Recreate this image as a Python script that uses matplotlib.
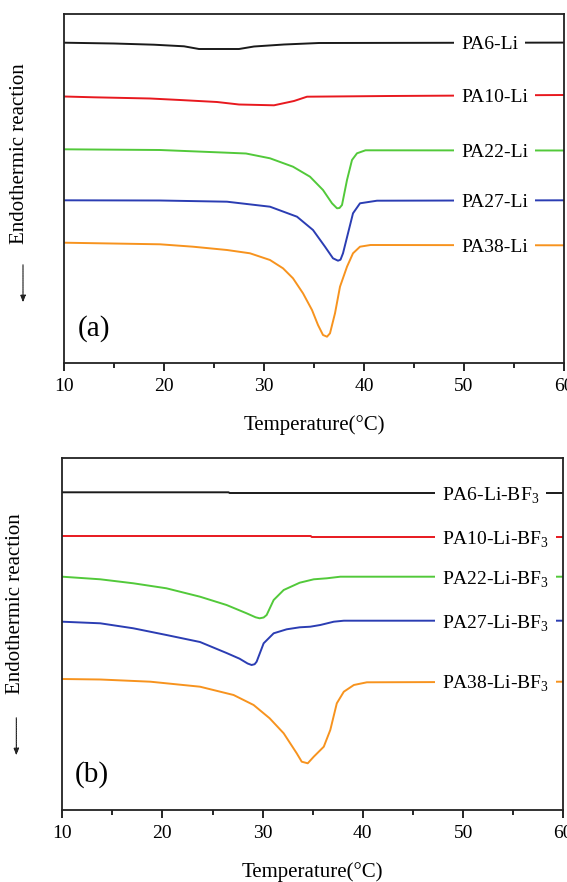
import matplotlib
matplotlib.use("Agg")
import matplotlib.pyplot as plt
from matplotlib.ticker import MultipleLocator

plt.rcParams['font.family'] = ['Liberation Serif', 'DejaVu Serif']
plt.rcParams['mathtext.fontset'] = 'custom'
plt.rcParams['mathtext.rm'] = 'Liberation Serif'

# ---------------- data (heat flow, arbitrary units) ----------------
labels_a = ['PA6-Li', 'PA10-Li', 'PA22-Li', 'PA27-Li', 'PA38-Li']
labels_b = [r'PA6-Li-BF$_\mathregular{3}$', r'PA10-Li-BF$_\mathregular{3}$',
            r'PA22-Li-BF$_\mathregular{3}$', r'PA27-Li-BF$_\mathregular{3}$',
            r'PA38-Li-BF$_\mathregular{3}$']
colors = ['#1a1a1a', '#e8191f', '#52c93a', '#2b3db3', '#f7931e']

# Panel (a)
pa6_T = [10, 15, 19, 22, 23.5, 27.5, 29, 32, 35.5, 60]
pa6_y = [320.3, 319.5, 318.3, 316.7, 314, 314, 316.5, 318.5, 320, 320.4]

pa10_T = [10, 13, 18.6, 21.6, 25.3, 27.5, 31, 33, 34.3, 42.5, 60]
pa10_y = [266.5, 265.7, 264.5, 263, 261, 258.5, 257.7, 262, 266.3, 267, 268]

pa22_T = [10, 19.6, 26.3, 28.2, 30.6, 32.9, 34.6, 35.9, 36.8, 37.3, 37.55,
          37.8, 38.3, 38.8, 39.3, 40.15, 60]
pa22_y = [213.7, 213, 210.3, 209.5, 204.7, 196.3, 186.3, 173, 159.7, 154.7,
          155, 158, 183, 203, 209.7, 212.7, 212.5]

pa27_T = [10, 19.6, 26.3, 30.6, 33.3, 34.9, 36.1, 36.9, 37.4, 37.65, 37.9,
          38.4, 38.9, 39.6, 41.3, 60]
pa27_y = [162.7, 162.5, 161.3, 156.3, 146.3, 133, 116.3, 104.7, 102.3, 103.3,
          109.7, 129.7, 149.7, 159.7, 162.3, 162.7]

pa38_T = [10, 19.6, 22.9, 26.3, 28.6, 30.6, 31.9, 32.9, 33.9, 34.8, 35.4, 35.9,
          36.3, 36.6, 37.1, 37.6, 38.3, 38.9, 39.6, 40.65, 60]
pa38_y = [120.3, 118.7, 116.3, 113, 109.7, 103, 94.7, 84.7, 69.7, 53, 38, 28,
          26.3, 29.7, 49.7, 76.3, 96.3, 109.7, 116.3, 118, 117.7]

# Panel (b)
b6_T = [10, 26.6, 26.7, 60]
b6_y = [317.7, 317.7, 317, 317]

b10_T = [10, 34.8, 34.9, 60]
b10_y = [274, 274, 273, 273]

b22_T = [10, 13.8, 17.1, 20.4, 23.75, 26.4, 28.4, 29.3, 29.7, 30.1, 30.4,
         31.1, 32.1, 33.7, 35.1, 36.4, 37.75, 60]
b22_y = [233.3, 230.7, 226.7, 221.7, 213.3, 205, 196.7, 192.7, 191.7, 192.5,
         195, 210, 220, 227.3, 230.7, 231.7, 233.3, 233.3]

b27_T = [10, 13.8, 17.1, 20.4, 23.75, 26.4, 27.7, 28.5, 28.9, 29.2, 29.4,
         30.1, 31.1, 32.4, 33.7, 34.75, 35.75, 37.1, 38.1, 60]
b27_y = [188.3, 186.7, 181.7, 175, 168, 157, 151.3, 146.5, 145, 145.8, 148.3,
         166.7, 176.7, 180.7, 182.7, 183.3, 185, 188.3, 189.3, 189.3]

b38_T = [10, 13.8, 18.8, 23.75, 27.1, 29.1, 30.7, 32.1, 33.4, 33.9, 34.5, 35.1,
         36.1, 36.75, 37.4, 38.1, 39.1, 40.4, 60]
b38_y = [131, 130.5, 128.3, 123.3, 115, 105, 91.7, 76.7, 56.7, 48.3, 46.7, 53.3,
         63.3, 80, 106.7, 118.3, 125, 127.7, 128.3]

xticks = [10, 20, 30, 40, 50, 60]
xlabel = 'Temperature(°C)'
ylabel = 'Endothermic reaction'

series_a = [(pa6_T, pa6_y), (pa10_T, pa10_y), (pa22_T, pa22_y),
            (pa27_T, pa27_y), (pa38_T, pa38_y)]
series_b = [(b6_T, b6_y), (b10_T, b10_y), (b22_T, b22_y),
            (b27_T, b27_y), (b38_T, b38_y)]

# ---------------- figure ----------------
W, H = 567, 882
fig = plt.figure(figsize=(W / 100, H / 100), dpi=100)


def frac(px_l, px_top, px_r, px_bot):
    return [px_l / W, 1 - px_bot / H, (px_r - px_l) / W, (px_bot - px_top) / H]


ax_a = fig.add_axes(frac(64, 13.5, 564, 363))
ax_b = fig.add_axes(frac(62.2, 458.3, 563.3, 810))


def style(ax, ylim, tag, label_x, labels, series):
    for (T, y), c, lab in zip(series, colors, labels):
        ax.plot(T, y, color=c, lw=1.4, zorder=2, solid_joinstyle='round')
        ax.text(label_x, y[-1], lab, fontsize=14, ha='left', va='center_baseline',
                zorder=3,
                bbox=dict(boxstyle='square,pad=0.35', fc='white', ec='none'))
    ax.set_xlim(10, 60)
    ax.set_ylim(*ylim)
    ax.set_yticks([])
    ax.set_xticks(xticks)
    ax.xaxis.set_minor_locator(MultipleLocator(5))
    ax.tick_params(axis='x', which='major', direction='out', length=6, width=1.2,
                   labelsize=14, pad=5)
    ax.tick_params(axis='x', which='minor', direction='out', length=3.5, width=1.2)
    for s in ax.spines.values():
        s.set_linewidth(1.3)
        s.set_color('#222222')
    ax.set_xlabel(xlabel, fontsize=15, labelpad=14)
    ax.text(0.06, 0.1, tag, transform=ax.transAxes, fontsize=21,
            ha='center', va='center')


style(ax_a, (0, 349.5), '(a)', 49.7, labels_a, series_a)
style(ax_b, (0, 351.7), '(b)', 47.9, labels_b, series_b)

# y labels and arrows (figure pixel coords)
fig.text(20 / W, 1 - 153.5 / H, ylabel, rotation=90, fontsize=15,
         ha='center', va='center')
fig.text(16 / W, 1 - 604 / H, ylabel, rotation=90, fontsize=15,
         ha='center', va='center')
for x, y0, y1 in [(23, 262, 305), (16.3, 715, 758)]:
    fig.add_artist(matplotlib.patches.FancyArrowPatch(
        (x / W, 1 - y0 / H), (x / W, 1 - y1 / H), transform=fig.transFigure,
        arrowstyle='-|>,head_length=4,head_width=1.6', lw=0.8, color='#222222',
        mutation_scale=1, linestyle=(0, (1, 0.6))))

fig.savefig('out.png', dpi=100)
